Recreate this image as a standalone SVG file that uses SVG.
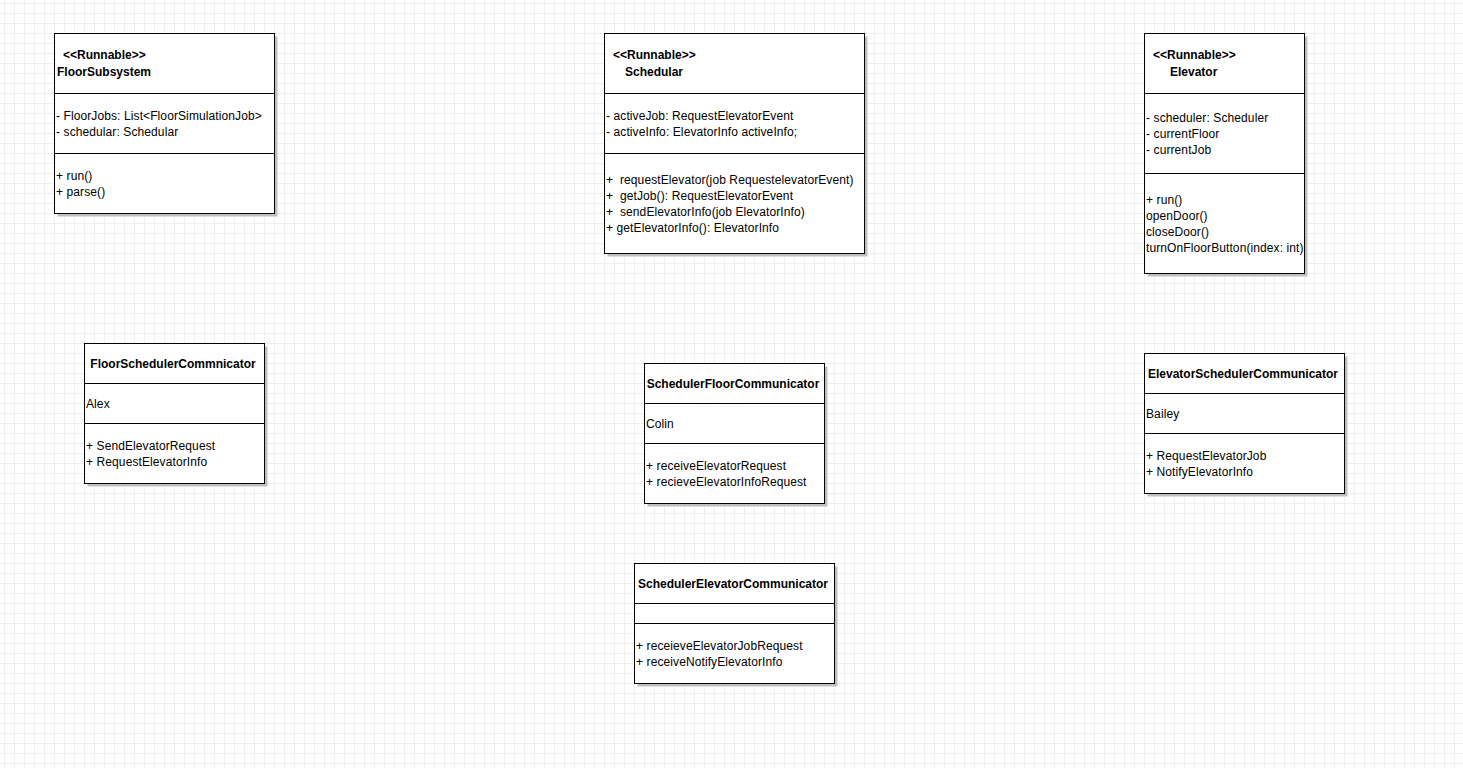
<svg xmlns="http://www.w3.org/2000/svg" width="1463" height="768" viewBox="0 0 1463 768">
<defs>
<pattern id="grid" x="4" y="3" width="10" height="10" patternUnits="userSpaceOnUse">
<path d="M0.5 0 V10 M0 0.5 H10" fill="none" stroke="#efefef" stroke-width="1"/>
</pattern>
</defs>
<style>
.box{fill:#ffffff;stroke:#000000;stroke-width:1}
.shadow{fill:#bfbfbf}
.div{stroke:#000000;stroke-width:1}
text{font-family:"Liberation Sans",Arial,sans-serif;font-size:12px;letter-spacing:0.1px;fill:#000000}
.b{font-weight:bold;letter-spacing:0}
.c{text-anchor:middle}
</style>
<rect width="1463" height="768" fill="#ffffff"/>
<rect width="1463" height="768" fill="url(#grid)"/>

<g id="FloorSubsystem">
<rect class="shadow" x="57.5" y="36.5" width="220" height="180"/>
<rect class="box" x="54.5" y="33.5" width="220" height="180"/>
<line class="div" x1="54.5" y1="93.5" x2="274.5" y2="93.5"/>
<line class="div" x1="54.5" y1="153.5" x2="274.5" y2="153.5"/>
<text class="b" x="63" y="59">&lt;&lt;Runnable&gt;&gt;</text>
<text class="b" x="57" y="76">FloorSubsystem</text>
<text x="56" y="120">- FloorJobs: List&lt;FloorSimulationJob&gt;</text>
<text x="56" y="136">- schedular: Schedular</text>
<text x="56" y="180">+ run()</text>
<text x="56" y="196">+ parse()</text>
</g>

<g id="Schedular">
<rect class="shadow" x="607.5" y="36.5" width="260" height="220"/>
<rect class="box" x="604.5" y="33.5" width="260" height="220"/>
<line class="div" x1="604.5" y1="93.5" x2="864.5" y2="93.5"/>
<line class="div" x1="604.5" y1="153.5" x2="864.5" y2="153.5"/>
<text class="b" x="613" y="59">&lt;&lt;Runnable&gt;&gt;</text>
<text class="b" x="625" y="76">Schedular</text>
<text x="606" y="120">- activeJob: RequestElevatorEvent</text>
<text x="606" y="136">- activeInfo: ElevatorInfo activeInfo;</text>
<text x="606" y="184" xml:space="preserve">+  requestElevator(job RequestelevatorEvent)</text>
<text x="606" y="200" xml:space="preserve">+  getJob(): RequestElevatorEvent</text>
<text x="606" y="216" xml:space="preserve">+  sendElevatorInfo(job ElevatorInfo)</text>
<text x="606" y="232">+ getElevatorInfo(): ElevatorInfo</text>
</g>

<g id="Elevator">
<rect class="shadow" x="1147.5" y="36.5" width="160" height="240"/>
<rect class="box" x="1144.5" y="33.5" width="160" height="240"/>
<line class="div" x1="1144.5" y1="93.5" x2="1304.5" y2="93.5"/>
<line class="div" x1="1144.5" y1="173.5" x2="1304.5" y2="173.5"/>
<text class="b" x="1153" y="59">&lt;&lt;Runnable&gt;&gt;</text>
<text class="b" x="1170" y="76">Elevator</text>
<text x="1146" y="122">- scheduler: Scheduler</text>
<text x="1146" y="138">- currentFloor</text>
<text x="1146" y="154">- currentJob</text>
<text x="1146" y="204">+ run()</text>
<text x="1146" y="220">openDoor()</text>
<text x="1146" y="236">closeDoor()</text>
<text x="1146" y="252">turnOnFloorButton(index: int)</text>
</g>

<g id="FloorSchedulerCommnicator">
<rect class="shadow" x="87.5" y="346.5" width="180" height="140"/>
<rect class="box" x="84.5" y="343.5" width="180" height="140"/>
<line class="div" x1="84.5" y1="383.5" x2="264.5" y2="383.5"/>
<line class="div" x1="84.5" y1="423.5" x2="264.5" y2="423.5"/>
<text class="b c" x="173" y="368">FloorSchedulerCommnicator</text>
<text x="86" y="408">Alex</text>
<text x="86" y="450">+ SendElevatorRequest</text>
<text x="86" y="466">+ RequestElevatorInfo</text>
</g>

<g id="SchedulerFloorCommunicator">
<rect class="shadow" x="647.5" y="366.5" width="180" height="140"/>
<rect class="box" x="644.5" y="363.5" width="180" height="140"/>
<line class="div" x1="644.5" y1="403.5" x2="824.5" y2="403.5"/>
<line class="div" x1="644.5" y1="443.5" x2="824.5" y2="443.5"/>
<text class="b c" x="733" y="388">SchedulerFloorCommunicator</text>
<text x="646" y="428">Colin</text>
<text x="646" y="470">+ receiveElevatorRequest</text>
<text x="646" y="486">+ recieveElevatorInfoRequest</text>
</g>

<g id="ElevatorSchedulerCommunicator">
<rect class="shadow" x="1147.5" y="356.5" width="200" height="140"/>
<rect class="box" x="1144.5" y="353.5" width="200" height="140"/>
<line class="div" x1="1144.5" y1="393.5" x2="1344.5" y2="393.5"/>
<line class="div" x1="1144.5" y1="433.5" x2="1344.5" y2="433.5"/>
<text class="b c" x="1243" y="378">ElevatorSchedulerCommunicator</text>
<text x="1146" y="418">Bailey</text>
<text x="1146" y="460">+ RequestElevatorJob</text>
<text x="1146" y="476">+ NotifyElevatorInfo</text>
</g>

<g id="SchedulerElevatorCommunicator">
<rect class="shadow" x="637.5" y="566.5" width="200" height="120"/>
<rect class="box" x="634.5" y="563.5" width="200" height="120"/>
<line class="div" x1="634.5" y1="603.5" x2="834.5" y2="603.5"/>
<line class="div" x1="634.5" y1="623.5" x2="834.5" y2="623.5"/>
<text class="b c" x="733" y="588">SchedulerElevatorCommunicator</text>
<text x="636" y="650">+ receieveElevatorJobRequest</text>
<text x="636" y="666">+ receiveNotifyElevatorInfo</text>
</g>

<g id="connectors"></g>
</svg>
